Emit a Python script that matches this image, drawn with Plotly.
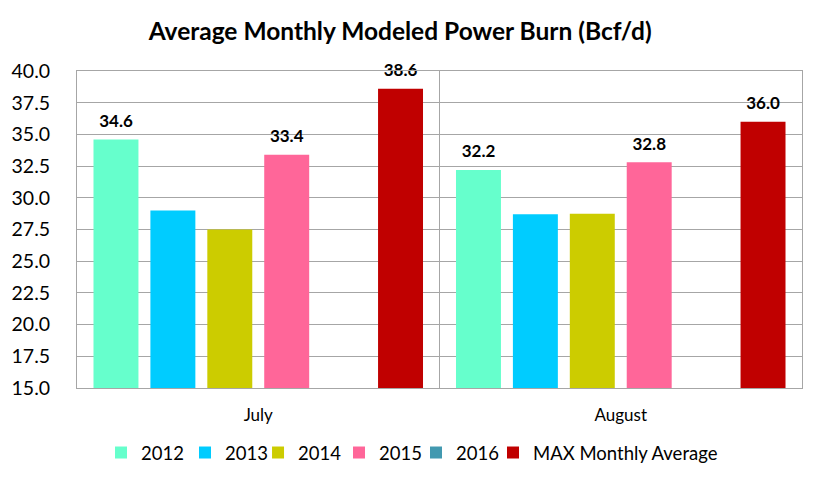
import plotly.graph_objects as go

categories = ["July", "August"]
series_names = ["2012", "2013", "2014", "2015", "2016", "MAX Monthly Average"]
values_2012 = [34.6, 32.2]
values_2013 = [29.0, 28.7]
values_2014 = [27.5, 28.75]
values_2015 = [33.4, 32.8]
values_2016 = [None, None]
values_max = [38.6, 36.0]
labels_2012 = ["34.6", "32.2"]
labels_2013 = ["", ""]
labels_2014 = ["", ""]
labels_2015 = ["33.4", "32.8"]
labels_2016 = ["", ""]
labels_max = ["38.6", "36.0"]
y_ticks = [15.0, 17.5, 20.0, 22.5, 25.0, 27.5, 30.0, 32.5, 35.0, 37.5, 40.0]

colors = ["#66FFCC", "#00CCFF", "#CCCC00", "#FF6699", "#4299B0", "#C00000"]
all_values = [values_2012, values_2013, values_2014, values_2015, values_2016, values_max]
all_labels = [labels_2012, labels_2013, labels_2014, labels_2015, labels_2016, labels_max]
legend_x = [0.0331, 0.149, 0.2497, 0.3614, 0.4676, 0.5738]

FONT = "Lato"
GAP = 0.058

legend_ids = ["legend"] + ["legend%d" % (k + 1) for k in range(1, len(series_names))]

fig = go.Figure()
for i, (name, vals, col) in enumerate(zip(series_names, all_values, colors)):
    fig.add_trace(go.Bar(
        x=categories, y=vals, name=name, offsetgroup=str(i),
        marker=dict(color=col, line=dict(width=0)),
        legend=legend_ids[i],
    ))
for i, (vals, labs) in enumerate(zip(all_values, all_labels)):
    fig.add_trace(go.Scatter(
        x=categories, y=vals, mode="markers+text", text=labs, offsetgroup=str(i),
        textposition="top center", showlegend=False, hoverinfo="skip",
        marker=dict(size=12, opacity=0),
        textfont=dict(family=FONT, size=17, color="black", weight="bold"),
        cliponaxis=False,
    ))

legend_common = dict(orientation="h", xanchor="left", y=-0.205, yanchor="middle",
                     font=dict(family=FONT, size=18.5, color="black"),
                     itemwidth=30, bgcolor="rgba(0,0,0,0)")

fig.update_layout(
    width=820, height=482,
    barmode="group", bargap=GAP, bargroupgap=0.21,
    scattermode="group", scattergap=GAP,
    paper_bgcolor="white", plot_bgcolor="white",
    margin=dict(l=77, r=18, t=71, b=94, autoexpand=False),
    font=dict(family=FONT, size=16, color="black"),
    title=dict(text="<b>Average Monthly Modeled Power Burn (Bcf/d)</b>",
               x=0.488, xanchor="center", y=0.935, yanchor="middle",
               font=dict(family=FONT, size=24.5, color="black")),
    **{lid: dict(x=lx, **legend_common) for lid, lx in zip(legend_ids, legend_x)},
)
fig.update_yaxes(range=[15, 40], tickvals=y_ticks, tickformat=".1f",
                 showgrid=True, gridcolor="#A6A6A6", gridwidth=1,
                 showline=True, linecolor="#A6A6A6", mirror=True,
                 ticks="", ticklabelstandoff=22, automargin=False,
                 tickfont=dict(family=FONT, size=19.5, color="black"),
                 zeroline=False)
fig.update_xaxes(showgrid=True, gridcolor="#A6A6A6", tickson="boundaries",
                 showline=True, linecolor="#A6A6A6", mirror=True, ticks="",
                 ticklabelstandoff=12, automargin=False,
                 tickfont=dict(family=FONT, size=17, color="black"))

fig.write_html("out.html", config={"displayModeBar": False},
               post_script="document.body.style.margin='0';")
